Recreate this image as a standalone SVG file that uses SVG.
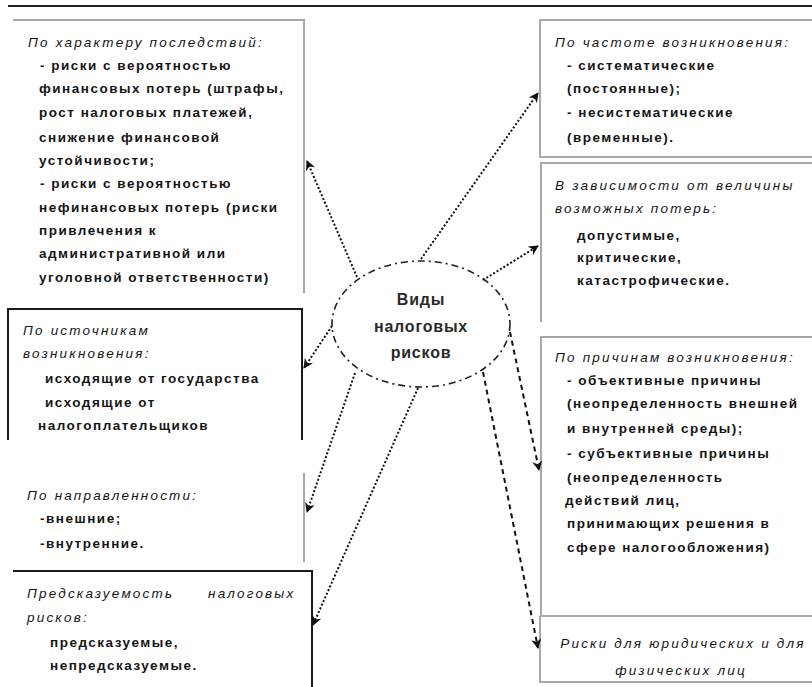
<svg xmlns="http://www.w3.org/2000/svg" width="812" height="687" viewBox="0 0 812 687">
<defs>
<marker id="ah" viewBox="0 0 10 10" refX="9" refY="5" markerWidth="5" markerHeight="5" orient="auto" markerUnits="strokeWidth">
<path d="M0,0 L10,5 L0,10 L3,5 z" fill="#111"/>
</marker>
</defs>
<style>
.t{font-family:"Liberation Sans",Arial,sans-serif;font-size:13.5px;font-weight:bold;fill:#151515;letter-spacing:1.5px}
.h{font-family:"Liberation Sans",Arial,sans-serif;font-size:13.5px;font-style:italic;fill:#151515;letter-spacing:2.2px}
.c{font-family:"Liberation Sans",Arial,sans-serif;font-size:16px;font-weight:bold;fill:#2a2a2a;text-anchor:middle;letter-spacing:0.8px}
.g{fill:none;stroke:#a8a8a8;stroke-width:2}
.k{fill:none;stroke:#1a1a1a;stroke-width:2}
.dot{fill:none;stroke:#111;stroke-width:2;stroke-dasharray:2 2;marker-end:url(#ah)}
.dash{fill:none;stroke:#111;stroke-width:2;stroke-dasharray:5 4;marker-end:url(#ah)}
</style>
<rect width="812" height="687" fill="#fff"/>
<line x1="8" y1="6" x2="812" y2="6" stroke="#222" stroke-width="2"/>

<g id="node-consequences">
<path class="g" d="M13,20 H304 V293"/>
<text class="h" x="28" y="47">По характеру последствий:</text>
<text class="t" x="40" y="70">- риски с вероятностью</text>
<text class="t" x="39" y="93">финансовых потерь (штрафы,</text>
<text class="t" x="39" y="117">рост налоговых платежей,</text>
<text class="t" x="39" y="142">снижение финансовой</text>
<text class="t" x="39" y="165">устойчивости;</text>
<text class="t" x="40" y="188">- риски с вероятностью</text>
<text class="t" x="39" y="212">нефинансовых потерь (риски</text>
<text class="t" x="39" y="235">привлечения к</text>
<text class="t" x="39" y="258">административной или</text>
<text class="t" x="39" y="282">уголовной ответственности)</text>
</g>

<g id="node-frequency">
<path class="g" d="M812,20 H540 V157 H812" stroke="#999"/>
<text class="h" x="555" y="47">По частоте возникновения:</text>
<text class="t" x="567" y="70">- систематические</text>
<text class="t" x="567" y="93">(постоянные);</text>
<text class="t" x="567" y="117">- несистематические</text>
<text class="t" x="567" y="142">(временные).</text>
</g>

<g id="node-losses">
<path class="g" d="M812,163 H541 V322"/>
<text class="h" x="555" y="190">В зависимости от величины</text>
<text class="h" x="555" y="213">возможных потерь:</text>
<text class="t" x="577" y="240">допустимые,</text>
<text class="t" x="577" y="262">критические,</text>
<text class="t" x="577" y="285">катастрофические.</text>
</g>

<g id="node-sources">
<path class="k" d="M8,440 V309 H302 V440"/>
<text class="h" x="23" y="335">По источникам</text>
<text class="h" x="23" y="358">возникновения:</text>
<text class="t" x="45" y="383">исходящие от государства</text>
<text class="t" x="45" y="407">исходящие от</text>
<text class="t" x="38" y="430">налогоплательщиков</text>
</g>

<g id="node-direction">
<path class="g" d="M304,473 V562"/>
<text class="h" x="27" y="500">По направленности:</text>
<text class="t" x="40" y="523">-внешние;</text>
<text class="t" x="40" y="548">-внутренние.</text>
</g>

<g id="node-predictability">
<path class="k" d="M13,571 H312 V687"/>
<text class="h" x="27" y="598">Предсказуемость</text>
<text class="h" x="208" y="598">налоговых</text>
<text class="h" x="27" y="622">рисков:</text>
<text class="t" x="50" y="647">предсказуемые,</text>
<text class="t" x="50" y="670">непредсказуемые.</text>
</g>

<g id="node-causes">
<path class="g" d="M812,337 H541 V616 H812"/>
<text class="h" x="555" y="362">По причинам возникновения:</text>
<text class="t" x="567" y="385">- объективные причины</text>
<text class="t" x="567" y="408">(неопределенность внешней</text>
<text class="t" x="567" y="433">и внутренней среды);</text>
<text class="t" x="567" y="458">- субъективные причины</text>
<text class="t" x="567" y="482">(неопределенность</text>
<text class="t" x="565" y="505">действий лиц,</text>
<text class="t" x="567" y="528">принимающих решения в</text>
<text class="t" x="567" y="552">сфере налогообложения)</text>
</g>

<g id="node-persons">
<path class="g" d="M540,616 V682 H812"/>
<text class="h" x="683" y="648" text-anchor="middle">Риски для юридических и для</text>
<text class="h" x="681" y="675" text-anchor="middle">физических лиц</text>
</g>

<g id="node-center">
<ellipse cx="421" cy="324" rx="89" ry="63" fill="#fff" stroke="#222" stroke-width="1.6" stroke-dasharray="7 4 2 4"/>
<text class="c" x="421" y="305">Виды</text>
<text class="c" x="421" y="332">налоговых</text>
<text class="c" x="421" y="358">рисков</text>
</g>

<g id="connectors">
<line class="dot" x1="357" y1="277" x2="307" y2="161"/>
<line class="dot" x1="421" y1="259" x2="538" y2="93"/>
<line class="dot" x1="483" y1="280" x2="538" y2="246"/>
<line class="dot" x1="332" y1="326" x2="304" y2="368"/>
<line class="dot" x1="355" y1="373" x2="307" y2="512"/>
<line class="dot" x1="418" y1="388" x2="313" y2="625"/>
<line class="dash" x1="510" y1="332" x2="539" y2="470"/>
<line class="dash" x1="483" y1="372" x2="538" y2="648"/>
</g>
</svg>
